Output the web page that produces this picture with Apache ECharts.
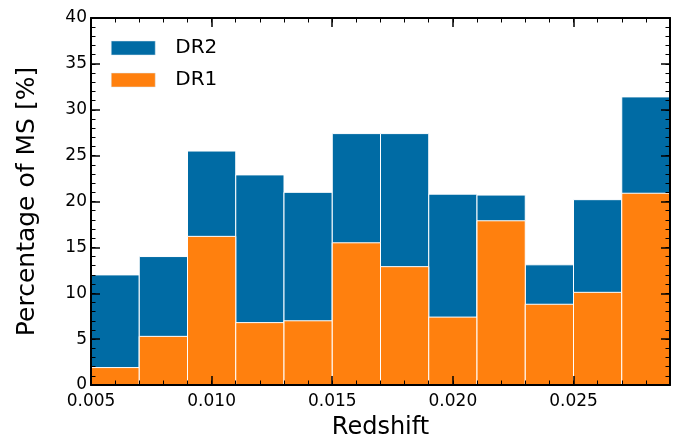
<!DOCTYPE html>
<html><head><meta charset="utf-8">
<script src="https://cdn.jsdelivr.net/npm/echarts@6/dist/echarts.min.js"></script>
<style>html,body{margin:0;padding:0;background:#fff}#c{width:688px;height:445px}</style>
</head><body><div id="c"></div>
<script>
const binEdges = [0.005,0.007,0.009,0.011,0.013,0.015,0.017,0.019,0.021,0.023,0.025,0.027,0.029];
const dr2 = [12.0,14.0,25.5,22.9,21.0,27.4,27.4,20.8,20.7,13.1,20.2,31.4];
const dr1 = [1.9,5.3,16.2,6.8,7.0,15.5,12.9,7.4,17.9,8.8,10.1,20.9];
const seriesNames = ['DR2','DR1'];
const colors = ['#006BA4','#FF800E'];

const FONT = 'DejaVu Sans';
function histData(vals){ return vals.map((v,i)=>[binEdges[i], binEdges[i+1], v]); }
function renderBin(color){
  return function(params, api){
    const p0 = api.coord([api.value(0), api.value(2)]);
    const p1 = api.coord([api.value(1), 0]);
    return {type:'rect', shape:{x:p0[0], y:p0[1], width:p1[0]-p0[0], height:p1[1]-p0[1]},
      style:{fill:color, stroke:'#ffffff', lineWidth:1}};
  };
}
const xmin = binEdges[0], xmax = binEdges[binEdges.length-1];
function xAx(pos, major, showLabel, extra){
  return Object.assign({
    type:'value', position:pos, min:xmin, max:xmax, interval: major?0.005:0.001,
    z:10, splitLine:{show:false},
    axisLine:{show:major, onZero:false, lineStyle:{color:'#000', width:2}},
    axisTick:{show:true, inside:true, length: major?9:4.5, lineStyle:{color:'#000', width: major?1.5:1}},
    axisLabel:{show:showLabel, fontFamily:FONT, fontSize:17, color:'#000', margin:8, showMaxLabel:false,
      formatter:v=>v.toFixed(3)}
  }, extra||{});
}
function yAx(pos, major, showLabel, extra){
  return Object.assign({
    type:'value', position:pos, min:0, max:40, interval: major?5:1,
    z:10, splitLine:{show:false},
    axisLine:{show:major, onZero:false, lineStyle:{color:'#000', width:2}},
    axisTick:{show:true, inside:true, length: major?9:4.5, lineStyle:{color:'#000', width: major?1.5:1}},
    axisLabel:{show:showLabel, fontFamily:FONT, fontSize:17, color:'#000', margin:4}
  }, extra||{});
}
const chart = echarts.init(document.getElementById('c'), null, {renderer:'canvas'});
chart.setOption({
  animation:false,
  backgroundColor:'#fff',
  grid:{left:91, right:18, top:18, bottom:55},
  legend:{
    data:seriesNames, orient:'vertical', left:111, top:38, padding:0,
    itemWidth:44, itemHeight:14, itemGap:12, icon:'rect',
    textStyle:{fontFamily:FONT, fontSize:20, color:'#000', padding:[0,0,0,15]},
    itemStyle:{borderColor:'#dde8f0', borderWidth:0.5}
  },
  xAxis:[
    xAx('bottom', true, true, {name:'Redshift', nameLocation:'middle', nameGap:31,
      nameTextStyle:{fontFamily:FONT, fontSize:24, color:'#000'}}),
    xAx('bottom', false, false),
    xAx('top', true, false),
    xAx('top', false, false)
  ],
  yAxis:[
    yAx('left', true, true, {name:'Percentage of MS [%]', nameLocation:'middle', nameGap:51,
      nameTextStyle:{fontFamily:FONT, fontSize:25, color:'#000'}}),
    yAx('left', false, false),
    yAx('right', true, false),
    yAx('right', false, false)
  ],
  series:[
    {name:seriesNames[0], type:'custom', renderItem:renderBin(colors[0]), data:histData(dr2),
      encode:{x:[0,1], y:2}, itemStyle:{color:colors[0]}, xAxisIndex:0, yAxisIndex:0, z:2},
    {name:seriesNames[1], type:'custom', renderItem:renderBin(colors[1]), data:histData(dr1),
      encode:{x:[0,1], y:2}, itemStyle:{color:colors[1]}, xAxisIndex:0, yAxisIndex:0, z:3}
  ]
});
</script></body></html>
